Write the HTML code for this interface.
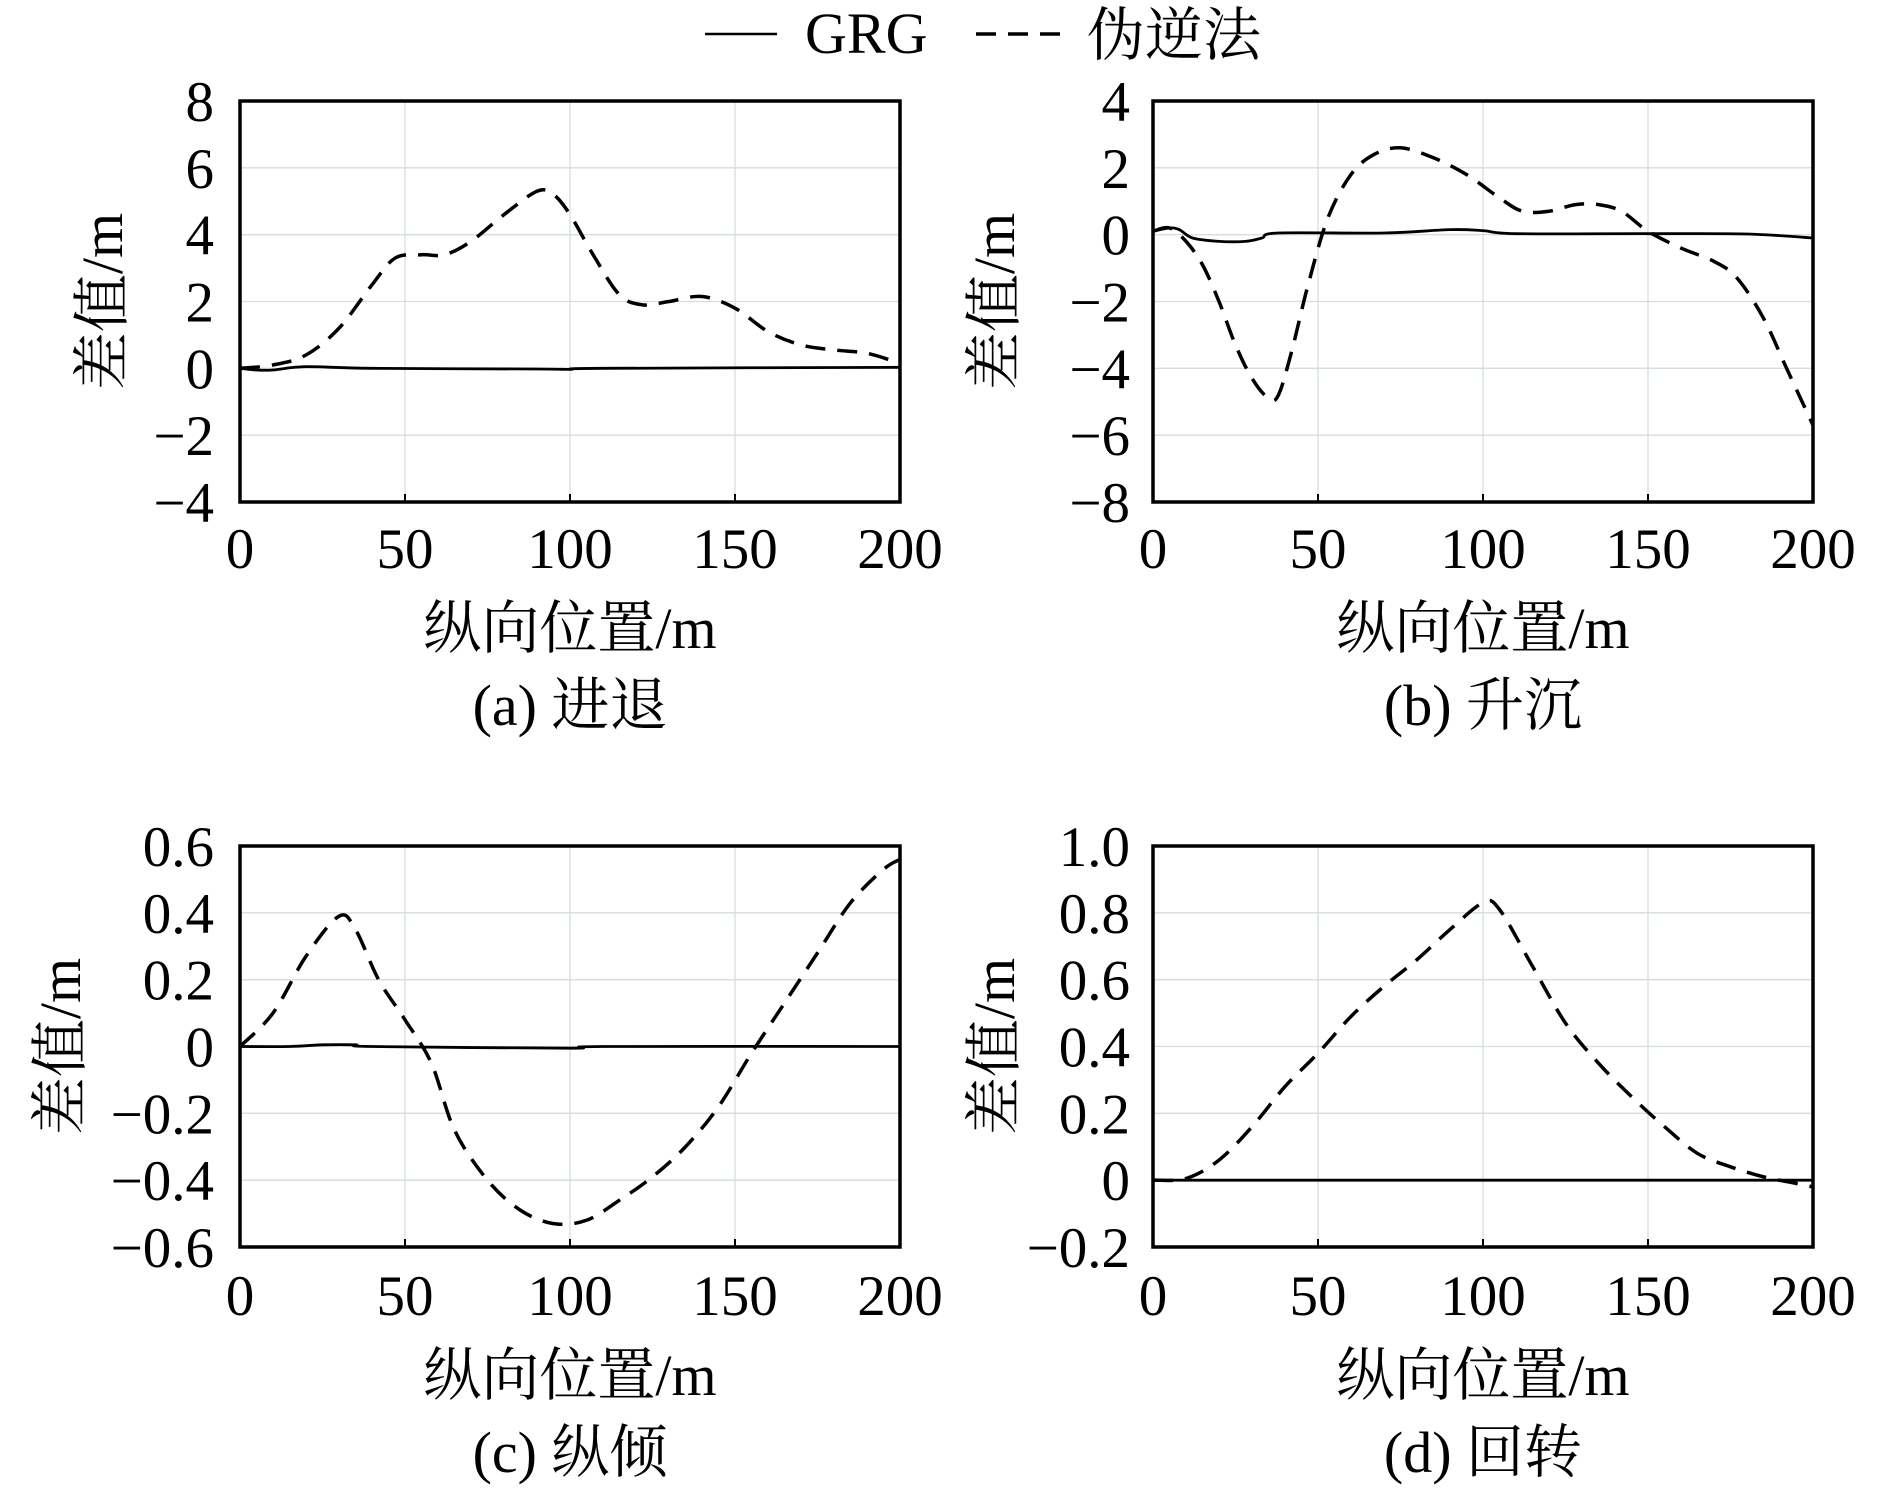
<!DOCTYPE html>
<html><head><meta charset="utf-8"><style>
html,body{margin:0;padding:0;background:#fff}
svg text{font-family:"Liberation Serif","Noto Serif CJK SC","Noto Sans CJK SC",serif;fill:#000}
</style></head><body>
<svg id="fig" width="1890" height="1492" viewBox="0 0 1890 1492" xmlns="http://www.w3.org/2000/svg">
<g>
<line x1="705" y1="34" x2="777" y2="34" stroke="#000" stroke-width="2.5"/>
<text x="805" y="53" font-size="58">GRG</text>
<line x1="976" y1="34" x2="1060" y2="34" stroke="#000" stroke-width="3.5" stroke-dasharray="20,12"/>
<text x="1087" y="55" font-size="58">伪逆法</text>
</g>
</svg>
<script>
const xTicks=[0,50,100,150,200];
const aX=[0,10,20,30,40,47,55,62,70,80,90,95,100,107,115,122,130,140,150,160,170,180,190,200];
const aPinv=[0,0.1,0.4,1.2,2.5,3.3,3.4,3.4,3.8,4.6,5.3,5.2,4.6,3.4,2.2,1.9,2.0,2.15,1.8,1.1,0.7,0.55,0.45,0.15];
const aGX=[0,5,10,20,40,90,100,110,200];
const aGRG=[0,-0.05,-0.05,0.05,0,-0.02,-0.03,0,0.03];
const bX=[0,5,10,15,20,25,30,35,38,42,47,53,60,67,75,85,95,105,112,120,128,135,142,150,160,170,177,185,192,200];
const bPinv=[0.1,0.2,-0.2,-0.9,-2,-3.3,-4.3,-4.9,-4.8,-3.5,-1.5,0.5,1.8,2.4,2.6,2.3,1.8,1.1,0.7,0.7,0.9,0.9,0.7,0.1,-0.4,-0.8,-1.3,-2.5,-4.0,-5.7];
const bGX=[0,5,8,12,20,28,33,38,70,90,100,110,150,180,200];
const bGRG=[0.1,0.2,0.15,-0.1,-0.2,-0.2,-0.1,0.05,0.05,0.15,0.12,0.03,0.03,0.02,-0.1];
const cX=[0,10,20,30,35,42,50,58,65,75,85,95,105,115,125,135,145,155,165,175,185,195,200];
const cPinv=[0,0.1,0.27,0.39,0.35,0.2,0.08,-0.05,-0.25,-0.4,-0.49,-0.53,-0.52,-0.46,-0.39,-0.3,-0.18,-0.02,0.13,0.28,0.43,0.53,0.56];
const cGX=[0,15,25,35,40,100,110,200];
const cGRG=[0,0,0.005,0.005,0,-0.005,0,0];
const dX=[0,10,20,30,40,50,60,70,80,90,100,105,115,125,135,145,155,165,175,185,195,200];
const dPinv=[0,0.005,0.06,0.16,0.28,0.38,0.49,0.58,0.66,0.75,0.83,0.81,0.64,0.47,0.35,0.25,0.16,0.08,0.04,0.01,-0.01,-0.02];
const dGX=[0,200];
const dGRG=[0,0];
const aTicks=[8,6,4,2,0,-2,-4];
const bTicks=[4,2,0,-2,-4,-6,-8];
const cTicks=[0.6,0.4,0.2,0,-0.2,-0.4,-0.6];
const dTicks=[1.0,0.8,0.6,0.4,0.2,0,-0.2];
const cTickLabels=["0.6","0.4","0.2","0","\u22120.2","\u22120.4","\u22120.6"];
const dTickLabels=["1.0","0.8","0.6","0.4","0.2","0","\u22120.2"];
const NS="http://www.w3.org/2000/svg";
const svg=document.getElementById('fig');
function mk(tag,attrs,parent){const e=document.createElementNS(NS,tag);for(const k in attrs)e.setAttribute(k,attrs[k]);(parent||svg).appendChild(e);return e;}
function smooth(pts){let d="M"+pts[0][0]+","+pts[0][1];for(let i=0;i<pts.length-1;i++){const p0=pts[Math.max(0,i-1)],p1=pts[i],p2=pts[i+1],p3=pts[Math.min(pts.length-1,i+2)];const c1x=p1[0]+(p2[0]-p0[0])/6,c1y=p1[1]+(p2[1]-p0[1])/6,c2x=p2[0]-(p3[0]-p1[0])/6,c2y=p2[1]-(p3[1]-p1[1])/6;d+=" C"+c1x+","+c1y+" "+c2x+","+c2y+" "+p2[0]+","+p2[1];}return d;}
function panel(id,L,T,W,H,ticks,labels,px,py,gx,gy,ytx,xlY,titleY,capY,ytX,caption){
 const g=mk('g',{});
 
 
 const ymax=ticks[0],ymin=ticks[ticks.length-1];
 const sx=v=>L+v/200*W, sy=v=>T+(ymax-v)/(ymax-ymin)*H;
 xTicks.forEach(t=>{const l=mk('line',{x1:sx(t),x2:sx(t),y1:T,y2:T+H,stroke:'#d5dde0','stroke-width':1.3},g);
  const tx=mk('text',{x:sx(t),y:xlY,'font-size':57,'text-anchor':'middle'},g);tx.textContent=t;
  const tk=mk('line',{x1:sx(t),x2:sx(t),y1:T+H,y2:T+H-8,stroke:'#000','stroke-width':2},g);});
 ticks.forEach((t,i)=>{const l=mk('line',{x1:L,x2:L+W,y1:sy(t),y2:sy(t),stroke:'#d5dde0','stroke-width':1.3},g);
  const tx=mk('text',{x:ytx,y:sy(t)+20,'font-size':57,'text-anchor':'end'},g);tx.textContent=labels?labels[i]:(t<0?'\u2212'+(-t):String(t));});
 const p1=mk('path',{d:smooth(gx.map((x,i)=>[sx(x),sy(gy[i])])),fill:'none',stroke:'#000','stroke-width':2.8},g);
 
 
 const p2=mk('path',{d:smooth(px.map((x,i)=>[sx(x),sy(py[i])])),fill:'none',stroke:'#000','stroke-width':3.5,'stroke-dasharray':'20,12'},g);
 
 
 const fr=mk('rect',{x:L,y:T,width:W,height:H,fill:'none',stroke:'#000','stroke-width':3.5},g);
 
 
 const xt=mk('text',{x:L+W/2,y:titleY,'font-size':58,'text-anchor':'middle'},g);xt.textContent='纵向位置/m';
 
 
 const cy=T+H/2;
 const yt=mk('text',{x:ytX,y:cy,'font-size':58,'text-anchor':'middle',transform:'rotate(-90 '+ytX+' '+cy+')'},g);yt.textContent='差值/m';
 
 
 const cp=mk('text',{x:L+W/2,y:capY,'font-size':58,'text-anchor':'middle'},g);cp.textContent=caption;
 
 
}
panel('a',240,101,660,401,aTicks,null,aX,aPinv,aGX,aGRG,214,568,648,725,122,'(a) 进退');
panel('b',1153,101,660,401,bTicks,null,bX,bPinv,bGX,bGRG,1130,568,648,725,1014,'(b) 升沉');
panel('c',240,846,660,401,cTicks,cTickLabels,cX,cPinv,cGX,cGRG,214,1315,1395,1472,80,'(c) 纵倾');
panel('d',1153,846,660,401,dTicks,dTickLabels,dX,dPinv,dGX,dGRG,1130,1315,1395,1472,1014,'(d) 回转');
</script>
</body></html>
